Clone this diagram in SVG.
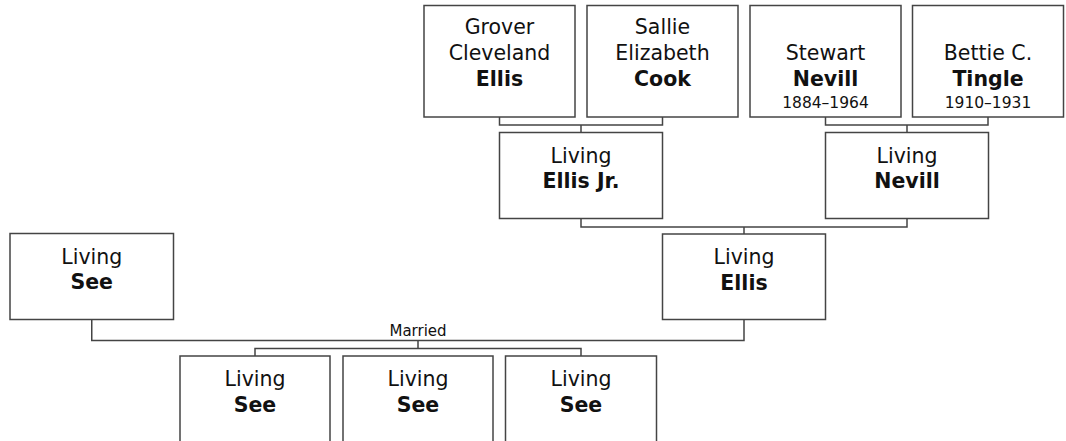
<svg xmlns="http://www.w3.org/2000/svg" width="1066" height="441" viewBox="0 0 1066 441">
<style>
.box{fill:#fff;stroke:#444;stroke-width:1.5}
.ln{fill:none;stroke:#444;stroke-width:1.5}
text{font-family:"DejaVu Sans",Verdana,sans-serif;text-anchor:middle;fill:#111}
.n{font-size:20.5px}
.b{font-size:20.5px;font-weight:bold}
.d{font-size:15.5px}
.m{font-size:15px}
</style>
<rect width="1066" height="441" fill="#fff"/>
<g id="connectors">
<path class="ln" d="M499.5 117V125H662.5V117M581 125V132.5"/>
<path class="ln" d="M825.5 117V125H988V117M907 125V132.5"/>
<path class="ln" d="M581 218.5V227H907V218.5M744 227V234"/>
<path class="ln" d="M91.75 319.5V340.5H744V319.5M418 340.5V348.5"/>
<path class="ln" d="M255 356V348.5H581V356"/>
<text class="m" x="418" y="335.5">Married</text>
</g>
<g id="grover">
<rect class="box" x="424" y="5.5" width="151" height="111.5"/>
<text class="n" x="499.5" y="33.5">Grover</text>
<text class="n" x="499.5" y="59.5">Cleveland</text>
<text class="b" x="499.5" y="85.5">Ellis</text>
</g>
<g id="sallie">
<rect class="box" x="587" y="5.5" width="151" height="111.5"/>
<text class="n" x="662.5" y="33.5">Sallie</text>
<text class="n" x="662.5" y="59.5">Elizabeth</text>
<text class="b" x="662.5" y="85.5">Cook</text>
</g>
<g id="stewart">
<rect class="box" x="750" y="5.5" width="151" height="111.5"/>
<text class="n" x="825.5" y="59.5">Stewart</text>
<text class="b" x="825.5" y="85.5">Nevill</text>
<text class="d" x="825.5" y="107.5">1884–1964</text>
</g>
<g id="bettie">
<rect class="box" x="912.5" y="5.5" width="151" height="111.5"/>
<text class="n" x="988" y="59.5">Bettie C.</text>
<text class="b" x="988" y="85.5">Tingle</text>
<text class="d" x="988" y="107.5">1910–1931</text>
</g>
<g id="ellisjr">
<rect class="box" x="499.5" y="132.5" width="163" height="86"/>
<text class="n" x="581" y="162.5">Living</text>
<text class="b" x="581" y="188">Ellis Jr.</text>
</g>
<g id="nevill">
<rect class="box" x="825.5" y="132.5" width="163" height="86"/>
<text class="n" x="907" y="162.5">Living</text>
<text class="b" x="907" y="188">Nevill</text>
</g>
<g id="ellis">
<rect class="box" x="662.5" y="234" width="163" height="85.5"/>
<text class="n" x="744" y="264">Living</text>
<text class="b" x="744" y="289.5">Ellis</text>
</g>
<g id="see">
<rect class="box" x="10" y="233.5" width="163.5" height="86"/>
<text class="n" x="91.75" y="263.5">Living</text>
<text class="b" x="91.75" y="289">See</text>
</g>
<g id="child1">
<rect class="box" x="180" y="356" width="150" height="86"/>
<text class="n" x="255" y="386">Living</text>
<text class="b" x="255" y="411.5">See</text>
</g>
<g id="child2">
<rect class="box" x="343" y="356" width="150" height="86"/>
<text class="n" x="418" y="386">Living</text>
<text class="b" x="418" y="411.5">See</text>
</g>
<g id="child3">
<rect class="box" x="505.5" y="356" width="151" height="86"/>
<text class="n" x="581" y="386">Living</text>
<text class="b" x="581" y="411.5">See</text>
</g>
</svg>
